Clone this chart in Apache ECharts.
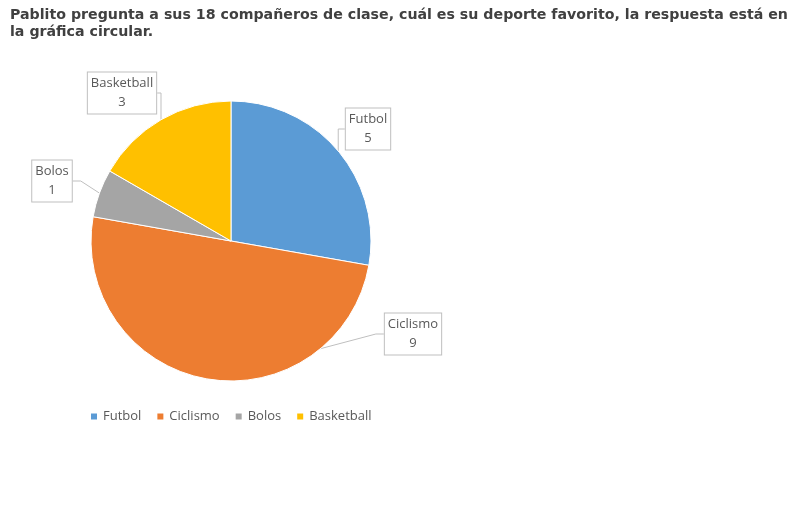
<!DOCTYPE html>
<html>
<head>
<meta charset="utf-8">
<script src="https://cdn.jsdelivr.net/npm/echarts@6/dist/echarts.min.js"></script>
<style>
  html, body { margin: 0; padding: 0; background: #fff; }
  #chart { width: 800px; height: 519px; }
</style>
</head>
<body>
<div id="chart"></div>
<script>
var categories = ['Futbol', 'Ciclismo', 'Bolos', 'Basketball'];
var values = [5, 9, 1, 3];
var colors = ['#5B9BD5', '#ED7D31', '#A5A5A5', '#FFC000'];

// where each callout box sits (centre of the box)
var calloutPos = [[368, 129], [413, 334], [52, 181], [122, 93]];

(function () {
	var dom = document.getElementById('chart');
	var myChart = echarts.init(dom);
	var option = null;

	var pieData = categories.map(function (name, i) {
		return { name: name, value: values[i], itemStyle: { color: colors[i] } };
	});

	option = {
		animation: false,
		title: {
			text: 'Pablito pregunta a sus 18 compañeros de clase, cuál es su deporte favorito, la respuesta está en\nla gráfica circular.',
			left: 5,
			top: 2,
			textStyle: {
				fontFamily: 'DejaVu Sans',
				fontWeight: 'bold',
				fontSize: 14.2,
				lineHeight: 17,
				color: '#404040'
			}
		},
		legend: {
			data: categories,
			left: 84,
			top: 405,
			itemWidth: 8,
			itemHeight: 8,
			itemGap: 14,
			icon: 'rect',
			textStyle: {
				fontFamily: 'Open Sans',
				fontSize: 13,
				color: '#595959'
			}
		},
		series: [{
			type: 'pie',
			center: [231, 241],
			radius: 140,
			startAngle: 90,
			clockwise: true,
			data: pieData,
			itemStyle: {
				borderColor: '#fff',
				borderWidth: 1
			},
			label: {
				show: true,
				position: 'outside',
				formatter: '{b}\n{c}',
				fontFamily: 'Open Sans',
				fontSize: 13,
				lineHeight: 19,
				color: '#595959',
				align: 'center',
				backgroundColor: '#fff',
				borderColor: '#BFBFBF',
				borderWidth: 1,
				padding: [2, 3, 1, 3]
			},
			labelLine: {
				show: true,
				length: 8,
				length2: 8,
				lineStyle: { color: '#BFBFBF', width: 1 }
			},
			labelLayout: function (params) {
				var p = calloutPos[params.dataIndex];
				return { x: p[0], y: p[1], align: 'center', verticalAlign: 'middle' };
			}
		}]
	};

	if (option && typeof option === 'object') {
		myChart.setOption(option, true);
	}
})();
</script>
</body>
</html>
